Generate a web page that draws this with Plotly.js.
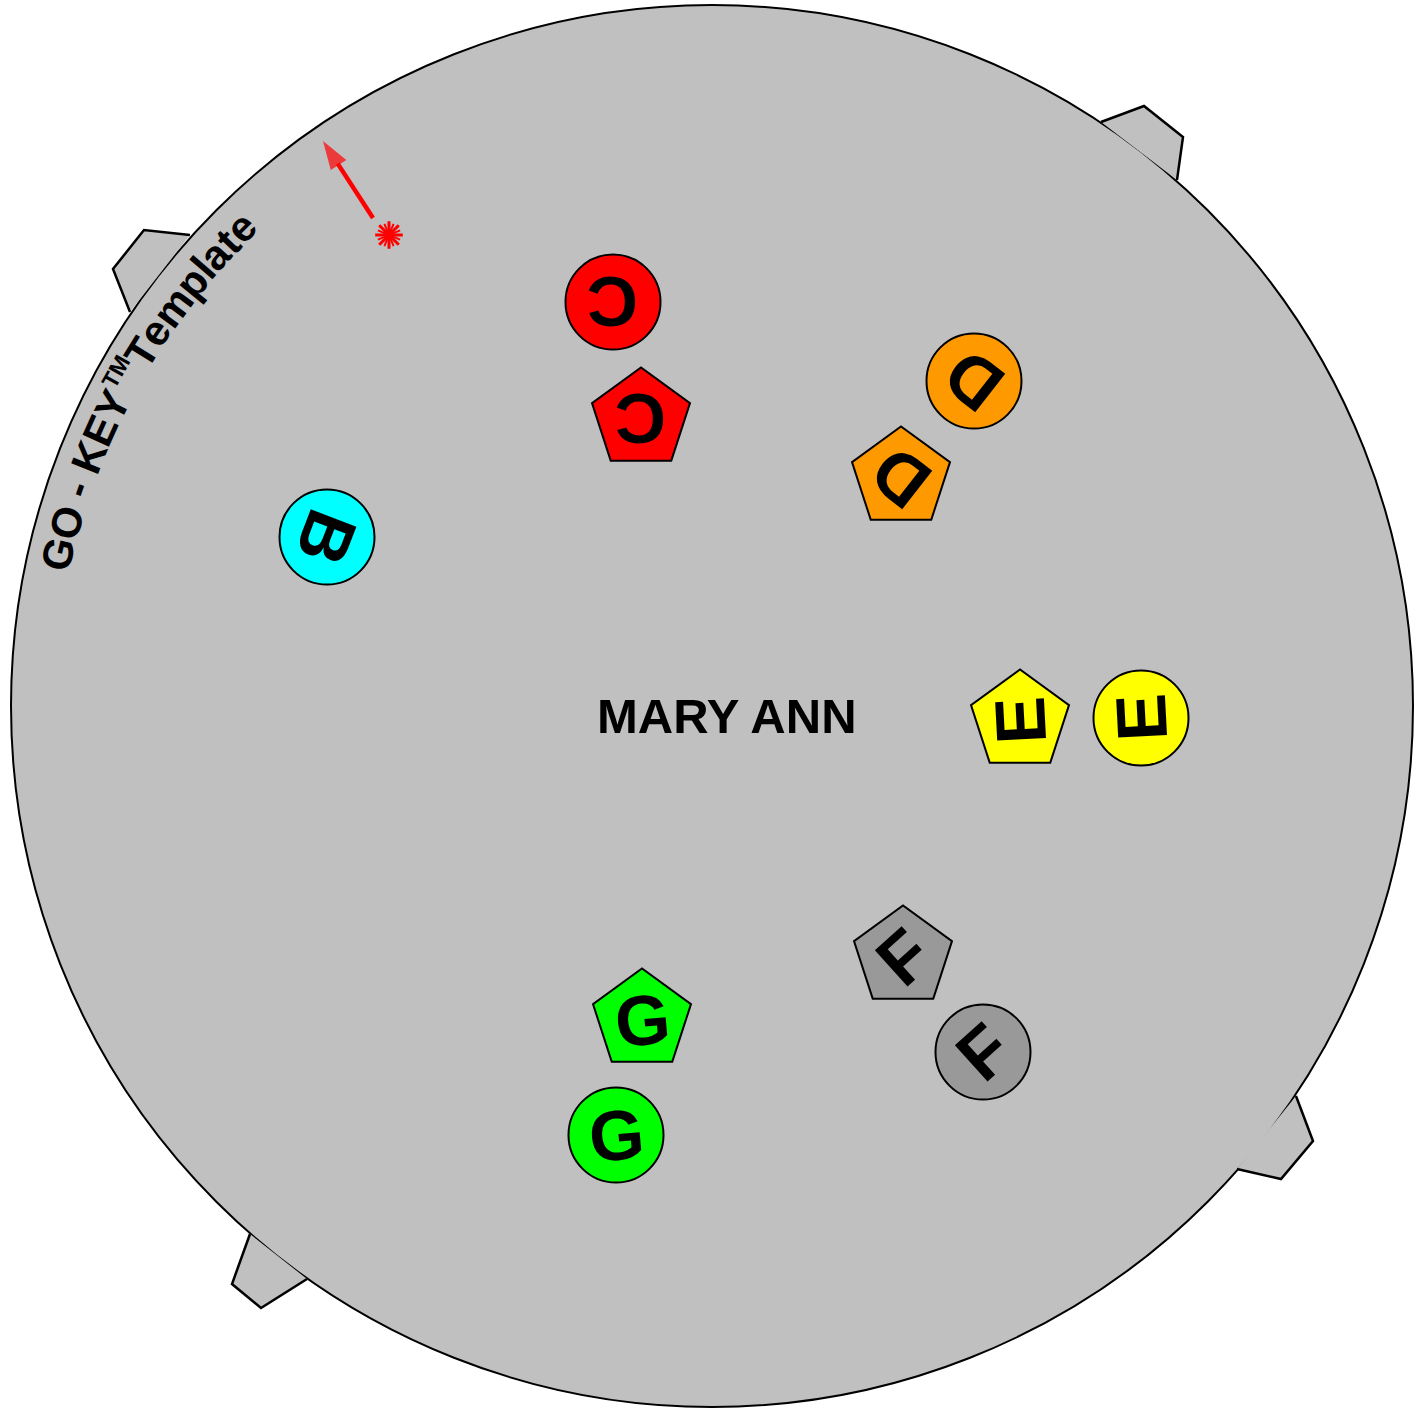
<!DOCTYPE html>
<html>
<head>
<meta charset="utf-8">
<script src="https://cdn.plot.ly/plotly-3.0.1.min.js"></script>
<style>html,body{margin:0;padding:0;background:#fff;}#chart{width:1427px;height:1409px;}</style>
</head>
<body>
<div id="chart"></div>
<script>
// ---- data (template coordinates: centre of disc = 0,0; y up) ----
const discRadius = 701;
const circleLetters = ['B', 'C', 'D', 'E', 'F', 'G'];
const circleX = [-385, -99, 262, 429, 271, -96];
const circleY = [169, 404, 325, -12, -346, -429];
const pentLetters = ['C', 'D', 'E', 'F', 'G'];
const pentX = [-71, 189, 308, 191, -70];
const pentY = [287, 228, -15, -251, -314];
const letterAngle = {B: 111, C: 180, D: -142, E: -93, F: -42, G: -5};
const tabTL = [[-522, 471], [-568, 476], [-599, 437], [-582, 394]];
const tabTR = [[389, 584], [432, 600], [471, 569], [465, 526]];
const tabBR = [[584, -390], [601, -435], [569, -473], [525, -463]];
const tabBL = [[-462, -528], [-480, -578], [-451, -602], [-405, -573]];
const arrowX = [-339, -389];
const arrowY = [488, 565];
const starX = [-323];
const starY = [471];
const titleText = 'MARY ANN';
const titleX = 15, titleY = -10;
const brandSegments = [
  {text: 'GO - KEY', sup: false},
  {text: 'TM', sup: true},
  {text: 'Template', sup: false}
];

// ---- styles / layout constants ----
const letterColor = {B: '#00ffff', C: '#ff0000', D: '#ff9900', E: '#ffff00', F: '#999999', G: '#00ff00'};
const FONT = 'Liberation Sans, Arial, Helvetica, sans-serif';
const brandSize = 42, brandRadius = 671, brandStartDeg = -168.3, supScale = 0.55, supLift = 13;
// Arial/Liberation Sans Bold advance widths (1/1000 em)
const charW = {G: 778, O: 778, ' ': 278, '-': 333, K: 722, E: 667, Y: 667, T: 611, M: 833,
               e: 556, m: 889, p: 611, l: 278, a: 556, t: 333};

function tabPath(pts) {
  return 'M' + pts.map(p => p[0] + ',' + p[1]).join(' L');
}

const shapes = [
  {type: 'circle', xref: 'x', yref: 'y', x0: -discRadius, x1: discRadius, y0: -discRadius, y1: discRadius,
   fillcolor: '#c0c0c0', line: {color: '#000', width: 2}, layer: 'below'}
].concat([tabTL, tabTR, tabBR, tabBL].map(t => ({
  type: 'path', xref: 'x', yref: 'y', path: tabPath(t),
  fillcolor: '#c0c0c0', line: {color: '#000', width: 2.5}, layer: 'below'
})));

const traces = [
  {type: 'scatter', mode: 'markers', x: circleX, y: circleY, hoverinfo: 'skip',
   marker: {symbol: 'circle', size: 95, color: circleLetters.map(l => letterColor[l]), line: {color: '#000', width: 2}}},
  {type: 'scatter', mode: 'markers', x: pentX, y: pentY, hoverinfo: 'skip',
   marker: {symbol: 'pentagon', size: 103, color: pentLetters.map(l => letterColor[l]), line: {color: '#000', width: 2}}},
  {type: 'scatter', mode: 'lines+markers', x: arrowX, y: arrowY, hoverinfo: 'skip',
   line: {color: '#ff0000', width: 4.5},
   marker: {symbol: ['circle', 'arrow'], size: [0, 30], angleref: 'previous', color: '#ff0000', line: {width: 0}}},
  {type: 'scatter', mode: 'markers', x: starX, y: starY, hoverinfo: 'skip',
   marker: {symbol: 'asterisk-open', size: 23, color: '#ff0000', line: {color: '#ff0000', width: 3}}},
  {type: 'scatter', mode: 'markers', x: starX, y: starY, hoverinfo: 'skip',
   marker: {symbol: 'asterisk-open', size: 20, angle: 22.5, color: '#ff0000', line: {color: '#ff0000', width: 2}}}
];

const annotations = [];
circleLetters.forEach((l, i) => annotations.push({x: circleX[i], y: circleY[i], text: l, showarrow: false,
  textangle: letterAngle[l], font: {family: FONT, size: 71, color: '#000', weight: 'bold'}}));
pentLetters.forEach((l, i) => annotations.push({x: pentX[i], y: pentY[i], text: l, showarrow: false,
  textangle: letterAngle[l], font: {family: FONT, size: 71, color: '#000', weight: 'bold'}}));
annotations.push({x: titleX, y: titleY, text: titleText, showarrow: false,
  font: {family: FONT, size: 49, color: '#000', weight: 'bold'}});

// text set along the rim of the disc
let arcPos = 0;
brandSegments.forEach(seg => {
  const size = seg.sup ? brandSize * supScale : brandSize;
  const rr = seg.sup ? brandRadius + supLift : brandRadius;
  const pieces = seg.sup ? [seg.text] : seg.text.split('');
  pieces.forEach(p => {
    const w = [...p].reduce((a, c) => a + charW[c], 0) / 1000 * size;
    const th = brandStartDeg * Math.PI / 180 + (arcPos + w / 2) / brandRadius;
    if (p.trim()) {
      annotations.push({x: rr * Math.cos(th), y: -rr * Math.sin(th), text: p, showarrow: false,
        textangle: th * 180 / Math.PI + 90,
        font: {family: FONT, size: size, color: '#000', weight: 'bold'}});
    }
    arcPos += w;
  });
});

const layout = {
  width: 1427, height: 1409,
  margin: {l: 0, r: 0, t: 0, b: 0, pad: 0},
  paper_bgcolor: '#ffffff', plot_bgcolor: 'rgba(0,0,0,0)',
  showlegend: false,
  xaxis: {range: [-712, 715], visible: false, fixedrange: true},
  yaxis: {range: [-703, 706], visible: false, fixedrange: true},
  shapes: shapes,
  annotations: annotations
};

Plotly.newPlot('chart', traces, layout, {staticPlot: true, displayModeBar: false});
</script>
</body>
</html>
